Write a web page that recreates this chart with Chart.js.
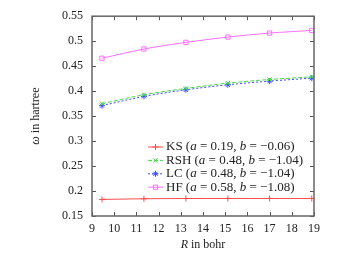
<!DOCTYPE html>
<html lang="en">
<head>
    <meta charset="UTF-8">
    <title>omega vs R</title>
    <script src="https://cdn.jsdelivr.net/npm/chart.js@4.4.1/dist/chart.umd.min.js"></script>
    <style>
        html, body { margin: 0; padding: 0; background: #fff; }
        #wrap { width: 361px; height: 254px; position: relative; }
    </style>
</head>
<body>
    <div id="wrap"><canvas id="chart"></canvas></div>
    <script>
        // data
        const rValues = [9.45, 11.34, 13.23, 15.12, 17.0, 18.9];
        const ksValues = [0.1832, 0.1845, 0.1850, 0.1851, 0.1851, 0.1851];
        const rshValues = [0.3749, 0.3928, 0.4054, 0.4160, 0.4233, 0.4286];
        const lcValues = [0.3709, 0.3895, 0.4027, 0.4127, 0.4200, 0.4260];
        const hfValues = [0.4658, 0.4843, 0.4976, 0.5082, 0.5162, 0.5215];
        const xTicks = [9, 10, 11, 12, 13, 14, 15, 16, 17, 18, 19];
        const yTicks = [0.15, 0.2, 0.25, 0.3, 0.35, 0.4, 0.45, 0.5, 0.55];

        // legend parts: [text, italic]
        const legendParts = [
            [['KS (', false], ['a', true], [' = 0.19, ', false], ['b', true], [' = \u22120.06)', false]],
            [['RSH (', false], ['a', true], [' = 0.48, ', false], ['b', true], [' = \u22121.04)', false]],
            [['LC (', false], ['a', true], [' = 0.48, ', false], ['b', true], [' = \u22121.04)', false]],
            [['HF (', false], ['a', true], [' = 0.58, ', false], ['b', true], [' = \u22121.08)', false]]
        ];

        const FONT = '"Liberation Serif", "Times New Roman", serif';

        function toPoints(ys) {
            return rValues.map((x, i) => ({ x: x, y: ys[i] }));
        }

        function drawMixed(ctx, parts, x, y, size) {
            parts.forEach(p => {
                ctx.font = (p[1] ? 'italic ' : '') + size + 'px ' + FONT;
                ctx.fillText(p[0], x, y);
                x += ctx.measureText(p[0]).width;
            });
        }

        // frame, inward ticks, axis titles and legend
        const decor = {
            id: 'decor',
            afterDraw(chart) {
                const ctx = chart.ctx;
                const a = chart.chartArea;
                const xs = chart.scales.x;
                const ys = chart.scales.y;
                ctx.save();
                ctx.strokeStyle = '#555';
                ctx.lineWidth = 1;
                xTicks.forEach(t => {
                    const px = Math.round(xs.getPixelForValue(t)) + 0.5;
                    ctx.beginPath();
                    ctx.moveTo(px, a.bottom); ctx.lineTo(px, a.bottom - 4);
                    ctx.moveTo(px, a.top); ctx.lineTo(px, a.top + 4);
                    ctx.stroke();
                });
                yTicks.forEach(t => {
                    const py = Math.round(ys.getPixelForValue(t)) + 0.5;
                    ctx.beginPath();
                    ctx.moveTo(a.left, py); ctx.lineTo(a.left + 4, py);
                    ctx.moveTo(a.right, py); ctx.lineTo(a.right - 4, py);
                    ctx.stroke();
                });
                ctx.strokeStyle = '#666';
                ctx.lineWidth = 1.5;
                ctx.strokeRect(a.left, a.top, a.right - a.left, a.bottom - a.top);

                ctx.fillStyle = '#222';
                ctx.textBaseline = 'middle';
                // x title
                ctx.textAlign = 'left';
                ctx.font = 'italic 12px ' + FONT;
                const w1 = ctx.measureText('R').width;
                ctx.font = '12px ' + FONT;
                const w2 = ctx.measureText(' in bohr').width;
                const cx = (a.left + a.right) / 2;
                drawMixed(ctx, [['R', true], [' in bohr', false]], cx - (w1 + w2) / 2, 245, 12);
                // y title
                ctx.save();
                ctx.translate(36, (a.top + a.bottom) / 2);
                ctx.rotate(-Math.PI / 2);
                ctx.font = 'italic 12px ' + FONT;
                const w3 = ctx.measureText('\u03c9').width;
                ctx.font = '12px ' + FONT;
                const w4 = ctx.measureText(' in hartree').width;
                drawMixed(ctx, [['\u03c9', true], [' in hartree', false]], -(w3 + w4) / 2, 0, 12);
                ctx.restore();

                // legend
                const lx0 = 148, lx1 = 163, tx = 166;
                chart.data.datasets.forEach((ds, i) => {
                    const y = 147 + i * 13.4;
                    ctx.save();
                    ctx.strokeStyle = ds.borderColor;
                    ctx.fillStyle = 'rgba(0,0,0,0)';
                    ctx.lineWidth = ds.borderWidth;
                    ctx.setLineDash(ds.borderDash || []);
                    ctx.beginPath();
                    ctx.moveTo(lx0, y); ctx.lineTo(lx1, y);
                    ctx.stroke();
                    ctx.setLineDash([]);
                    Chart.helpers.drawPoint(ctx, {
                        pointStyle: ds.pointStyle,
                        radius: ds.pointRadius,
                        borderWidth: 1
                    }, (lx0 + lx1) / 2, y);
                    ctx.restore();
                    ctx.fillStyle = '#222';
                    drawMixed(ctx, legendParts[i], tx, y, 13);
                });
                ctx.restore();
            }
        };

        const datasets = [
            { label: 'KS', data: toPoints(ksValues), borderColor: '#ff4a4a', backgroundColor: 'transparent',
              pointStyle: 'cross', pointRadius: 3, borderWidth: 1 },
            { label: 'RSH', data: toPoints(rshValues), borderColor: '#44dd44', backgroundColor: 'transparent',
              pointStyle: 'crossRot', pointRadius: 3, borderWidth: 1, borderDash: [4, 2] },
            { label: 'LC', data: toPoints(lcValues), borderColor: '#3c4cff', backgroundColor: 'transparent',
              pointStyle: 'star', pointRadius: 3, borderWidth: 1, borderDash: [2, 2] },
            { label: 'HF', data: toPoints(hfValues), borderColor: '#ff70ff', backgroundColor: 'transparent',
              pointStyle: 'rect', pointRadius: 3, borderWidth: 1 }
        ];
        datasets.forEach(d => {
            d.pointBorderColor = d.borderColor;
            d.pointBackgroundColor = 'transparent';
            d.pointBorderWidth = 1;
            d.tension = 0.3;
        });

        new Chart(document.getElementById('chart'), {
            type: 'line',
            data: { datasets: datasets },
            options: {
                responsive: true,
                maintainAspectRatio: false,
                animation: false,
                layout: { padding: { left: 0, right: 47, top: 15, bottom: 0 } },
                plugins: { legend: { display: false }, tooltip: { enabled: false } },
                scales: {
                    x: {
                        type: 'linear', min: 9, max: 19,
                        grid: { display: false, drawTicks: false },
                        border: { display: false },
                        afterBuildTicks: s => { s.ticks = xTicks.map(v => ({ value: v })); },
                        afterFit: s => { s.height = 38; },
                        ticks: { padding: 6, color: '#222', font: { family: FONT, size: 12 }, maxRotation: 0,
                                 callback: v => String(v) }
                    },
                    y: {
                        type: 'linear', min: 0.15, max: 0.55,
                        grid: { display: false, drawTicks: false },
                        border: { display: false },
                        afterBuildTicks: s => { s.ticks = yTicks.map(v => ({ value: v })); },
                        afterFit: s => { s.width = 92; },
                        ticks: { padding: 9, color: '#222', font: { family: FONT, size: 12 },
                                 callback: v => String(parseFloat(v.toFixed(2))) }
                    }
                }
            },
            plugins: [decor]
        });
    </script>
</body>
</html>
